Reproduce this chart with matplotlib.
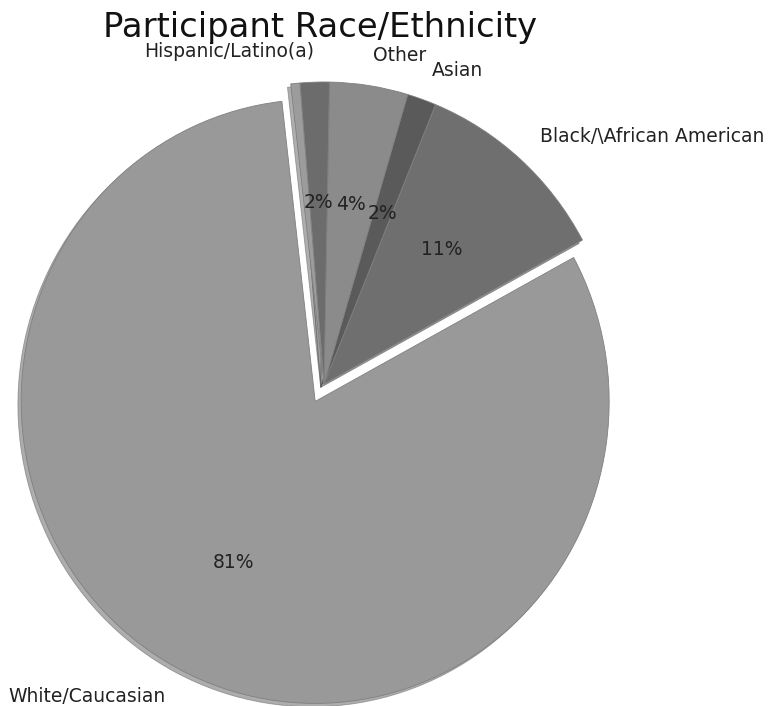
import matplotlib
matplotlib.use("Agg")
import matplotlib.pyplot as plt

# participant shares of the sample, in percent
labels = ["White/Caucasian", "Black/\\African American", "Asian", "Other",
          "Hispanic/Latino(a)", ""]
shares = [81.1, 10.9, 1.6, 4.3, 1.6, 0.5]
colors = ["#999999", "#6f6f6f", "#5a5a5a", "#8b8b8b", "#6c6c6c", "#9c9c9c"]
explode = [0.065, 0, 0, 0, 0, 0]

W, H = 772, 706
RX, RY = 294.0, 302.0    # pie radius in pixels (source image is a bit stretched)
CX, CY = 324.0, 384.0    # pie centre in image pixels (from top)

fig = plt.figure(figsize=(W / 100, H / 100), dpi=100)
ax = fig.add_axes([(CX - 1.25 * RX) / W, (H - CY - 1.25 * RY) / H,
                   2.5 * RX / W, 2.5 * RY / H])


def _pct(value):
    return "" if value < 1 else f"{value:1.0f}%"


wedges, texts, autotexts = ax.pie(
    shares, labels=labels, colors=colors, explode=explode, autopct=_pct,
    startangle=96.5, shadow={"ox": -0.008, "oy": -0.008, "shade": 0.4},
    wedgeprops={"linewidth": 0.6, "edgecolor": "#808080"},
    textprops={"fontsize": 13.5, "color": "#222222"}, frame=False)

ax.set_aspect("auto")
ax.set_xlim(-1.25, 1.25)
ax.set_ylim(-1.25, 1.25)
ax.axis("off")

fig.text(320 / W, 1 - 37 / H, "Participant Race/Ethnicity", fontsize=24.4,
         ha="center", va="baseline", color="#111111")

fig.savefig("out.png", dpi=100)
